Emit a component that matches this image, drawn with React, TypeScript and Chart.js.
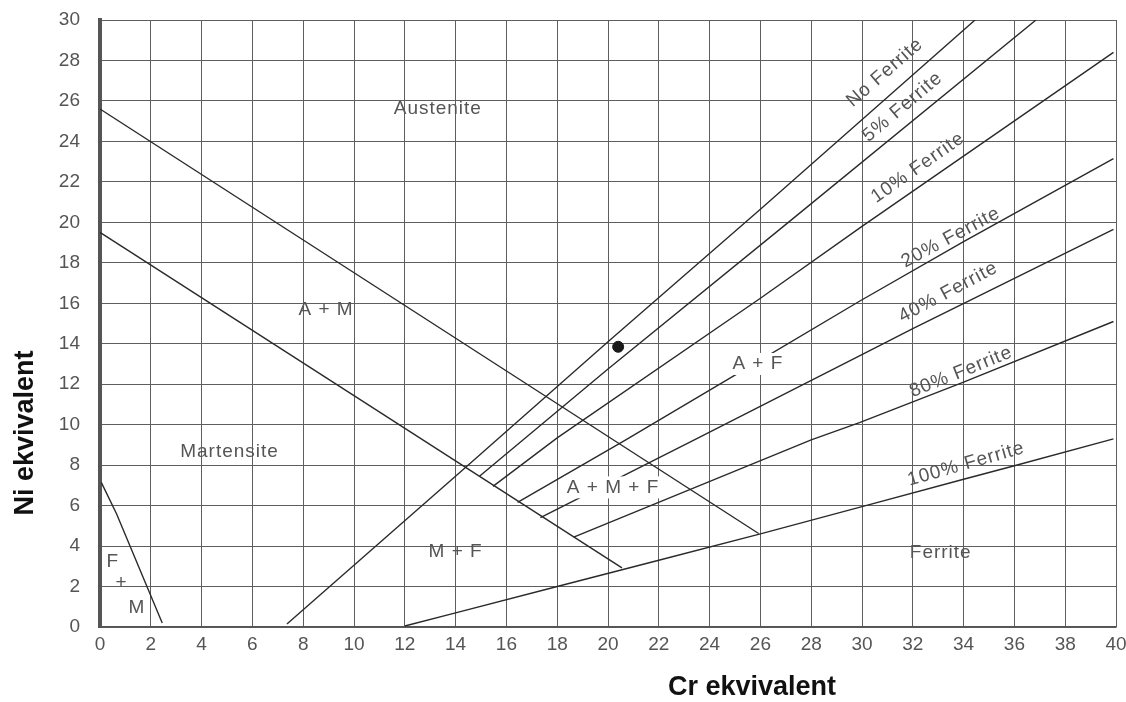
import React, { useEffect, useRef } from "react";
import { Chart, registerables } from "chart.js";

Chart.register(...registerables);

// ---- Data (Cr equivalent, Ni equivalent) ----
const xTickValues = [0, 2, 4, 6, 8, 10, 12, 14, 16, 18, 20, 22, 24, 26, 28, 30, 32, 34, 36, 38, 40];
const yTickValues = [0, 2, 4, 6, 8, 10, 12, 14, 16, 18, 20, 22, 24, 26, 28, 30];

const amUpperLine: [number, number][] = [[0, 25.6], [25.93, 4.62]];
const amLowerLine: [number, number][] = [[0, 19.5], [20.55, 2.92]];
const fmLine: [number, number][] = [[0.05, 7.15], [0.65, 5.6], [2.45, 0.2]];

const noFerrite: [number, number][] = [
  [7.36, 0.15], [14.4, 7.9], [20, 14.1], [26, 20.65], [34.45, 30],
];
const ferrite5: [number, number][] = [
  [14.94, 7.45], [20, 12.75], [27.1, 20], [36.85, 30],
];
const ferrite10: [number, number][] = [
  [15.47, 6.95], [18, 9.35], [26, 16.25], [30, 19.8], [39.9, 28.4],
];
const ferrite20: [number, number][] = [
  [16.44, 6.16], [20.7, 9.25], [25, 12.45], [29.9, 16.1], [34, 19.05], [39.9, 23.15],
];
const ferrite40: [number, number][] = [
  [17.34, 5.4], [23.4, 9.25], [29.9, 13.4], [32, 14.75], [39.9, 19.65],
];
const ferrite80: [number, number][] = [
  [18.65, 4.44], [28, 9.25], [29.9, 10.1], [34, 12.1], [39.9, 15.1],
];
const ferrite100: [number, number][] = [
  [12, 0.05], [14, 0.7], [18, 2.0], [22, 3.3], [26, 4.6], [30, 5.95], [34, 7.3], [36, 7.97], [39.9, 9.3],
];

const samplePoint: [number, number][] = [[20.4, 13.85]];

const allLines = [amUpperLine, amLowerLine, fmLine, noFerrite, ferrite5, ferrite10, ferrite20, ferrite40, ferrite80, ferrite100];

// Region labels (anchored in data coordinates)
const regionText = ["Austenite", "A + M", "Martensite", "F", "+", "M", "M + F", "A + M + F", "A + F", "Ferrite"];
const regionX = [13.3, 8.9, 5.1, 0.5, 0.85, 1.45, 14.0, 20.2, 25.9, 33.1];
const regionY = [25.6, 15.7, 8.65, 3.2, 2.2, 0.95, 3.7, 6.9, 13.0, 3.65];
const regionMask = [false, false, false, false, false, false, false, true, true, false];

const ferriteText = ["No Ferrite", "5% Ferrite", "10% Ferrite", "20% Ferrite", "40% Ferrite", "80% Ferrite", "100% Ferrite"];
const ferriteX = [30.9, 31.6, 32.2, 33.5, 33.4, 33.9, 34.1];
const ferriteY = [27.4, 25.7, 22.7, 19.25, 16.55, 12.6, 8.05];
const ferriteAngle = [41, 40, 35, 28, 28, 22, 16];

const labelPlugin = {
  id: "diagramLabels",
  afterDatasetsDraw(chart: any) {
    const ctx: CanvasRenderingContext2D = chart.ctx;
    const xs = chart.scales.x;
    const ys = chart.scales.y;
    ctx.save();
    ctx.fillStyle = "#555";
    ctx.font = "19px 'Liberation Sans', Arial, sans-serif";
    (ctx as any).letterSpacing = "1px";
    ctx.textAlign = "center";
    ctx.textBaseline = "middle";
    regionText.forEach((t, i) => {
      const px = xs.getPixelForValue(regionX[i]);
      const py = ys.getPixelForValue(regionY[i]);
      if (regionMask[i]) {
        const w = ctx.measureText(t).width;
        ctx.fillStyle = "#fff";
        ctx.fillRect(px - w / 2 - 3, py - 11, w + 6, 22);
        ctx.fillStyle = "#555";
      }
      ctx.fillText(t, px, py);
    });
    ferriteText.forEach((t, i) => {
      const px = xs.getPixelForValue(ferriteX[i]);
      const py = ys.getPixelForValue(ferriteY[i]);
      ctx.save();
      ctx.translate(px, py);
      ctx.rotate((-ferriteAngle[i] * Math.PI) / 180);
      ctx.fillText(t, 0, 0);
      ctx.restore();
    });
    ctx.restore();
  },
  afterDraw(chart: any) {
    const ctx: CanvasRenderingContext2D = chart.ctx;
    ctx.save();
    ctx.fillStyle = "#111";
    ctx.font = "bold 27px 'Liberation Sans', Arial, sans-serif";
    ctx.textAlign = "center";
    ctx.textBaseline = "middle";
    ctx.fillText("Cr ekvivalent", 752, 688);
    ctx.translate(26, 433);
    ctx.rotate(-Math.PI / 2);
    ctx.fillText("Ni ekvivalent", 0, 0);
    ctx.restore();
  },
};

export default function App() {
  const canvasRef = useRef<HTMLCanvasElement | null>(null);

  useEffect(() => {
    document.body.style.margin = "0";
    const canvas = canvasRef.current;
    if (!canvas) return;
    const lineSets = allLines.map((pts) => ({
      type: "scatter" as const,
      data: pts.map(([x, y]) => ({ x, y })),
      showLine: true,
      borderColor: "#2a2a2a",
      borderWidth: 1.4,
      pointRadius: 0,
      fill: false,
    }));
    const dotSet = {
      type: "scatter" as const,
      data: samplePoint.map(([x, y]) => ({ x, y })),
      showLine: false,
      pointRadius: 5.5,
      backgroundColor: "#1a1a1a",
      borderColor: "#1a1a1a",
    };
    const chart = new Chart(canvas, {
      type: "scatter",
      data: { datasets: [...lineSets, dotSet] as any },
      options: {
        animation: false,
        responsive: false,
        devicePixelRatio: 1,
        layout: { padding: { left: 0, right: 10, top: 20, bottom: 0 } },
        plugins: { legend: { display: false }, tooltip: { enabled: false } },
        scales: {
          x: {
            type: "linear",
            min: 0,
            max: 40,
            afterBuildTicks: (s: any) => {
              s.ticks = xTickValues.map((v) => ({ value: v }));
            },
            afterFit: (s: any) => {
              s.height = 75;
              s.paddingLeft = 0;
              s.paddingRight = 0;
            },
            ticks: {
              color: "#555",
              padding: 6,
              maxRotation: 0,
              autoSkip: false,
              font: { family: "'Liberation Sans', Arial, sans-serif", size: 19 },
            },
            grid: { color: "#5e5e5e", lineWidth: 1, drawTicks: false },
            border: { display: true, color: "#555", width: 1.5 },
          },
          y: {
            type: "linear",
            min: 0,
            max: 30,
            afterBuildTicks: (s: any) => {
              s.ticks = yTickValues.map((v) => ({ value: v }));
            },
            afterFit: (s: any) => {
              s.width = 100;
              s.paddingTop = 0;
              s.paddingBottom = 0;
            },
            ticks: {
              color: "#555",
              padding: 20,
              autoSkip: false,
              font: { family: "'Liberation Sans', Arial, sans-serif", size: 19 },
            },
            grid: { color: "#5e5e5e", lineWidth: 1, drawTicks: false },
            border: { display: true, color: "#555", width: 4 },
          },
        },
      },
      plugins: [labelPlugin],
    });
    return () => chart.destroy();
  }, []);

  return (
    <div style={{ position: "absolute", left: 0, top: 0, width: 1126, height: 702, background: "#fff" }}>
      <canvas ref={canvasRef} width={1126} height={702} />
    </div>
  );
}
